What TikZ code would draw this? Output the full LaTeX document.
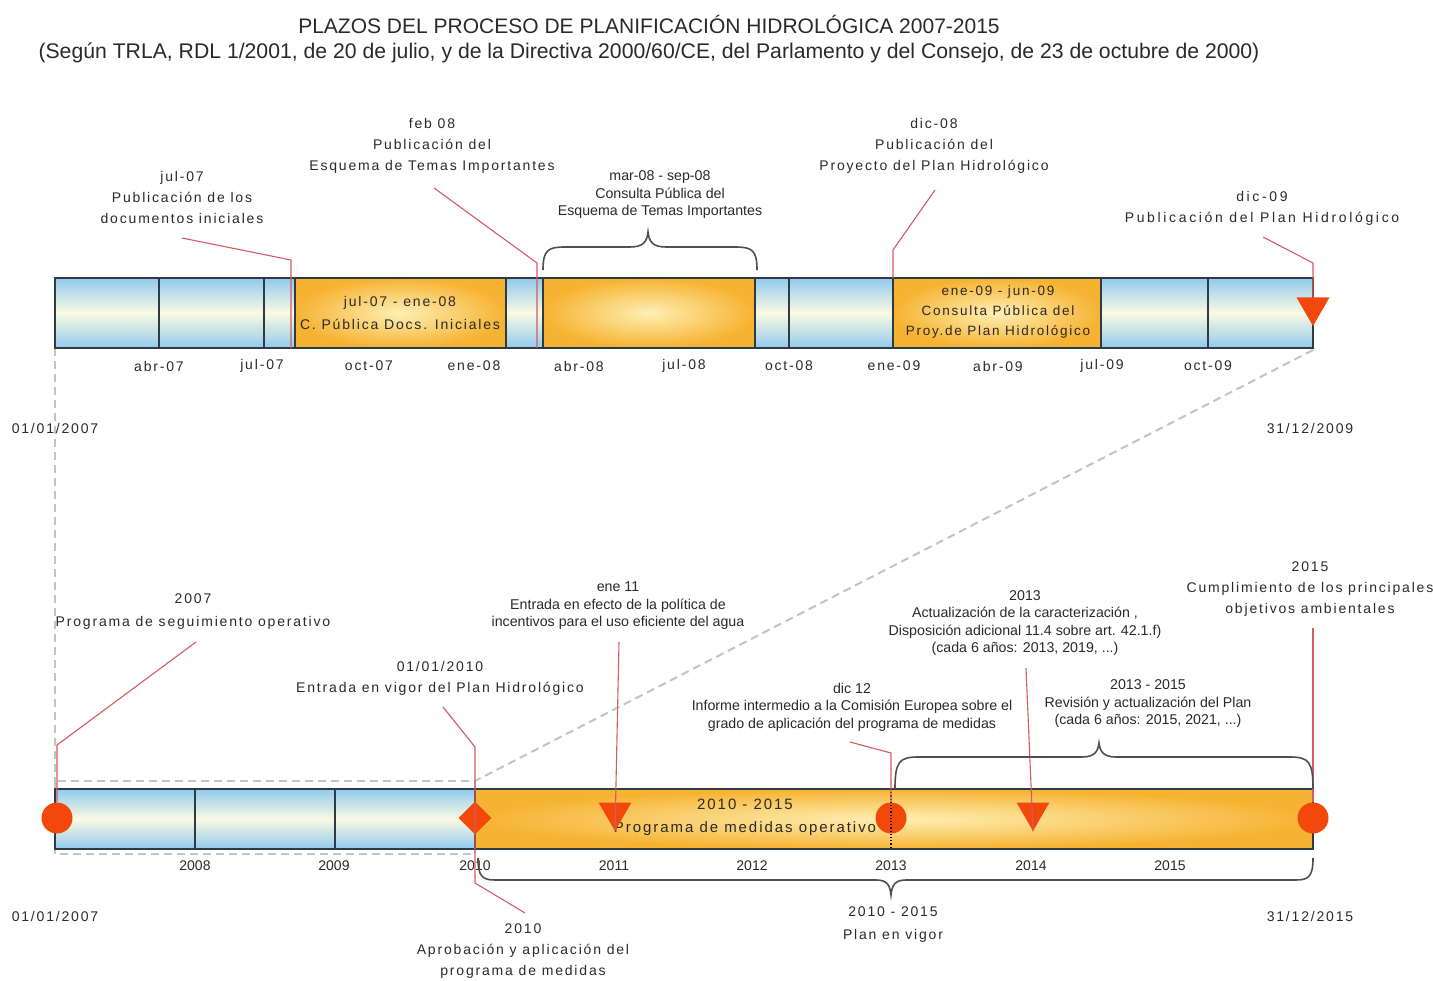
\documentclass[tikz,border=0pt]{standalone}
\usepackage{fontspec}
\setmainfont{Liberation Sans}
\newfontfamily\spacedfont[LetterSpace=13]{Liberation Sans}
\newfontfamily\widefont[LetterSpace=19]{Liberation Sans}
\usetikzlibrary{shapes.geometric}
\definecolor{barblue}{HTML}{92CAEE}
\definecolor{barpale}{HTML}{FAFAE2}
\definecolor{gold}{HTML}{F6B332}
\definecolor{goldlight}{HTML}{FEEFB4}
\definecolor{mk}{HTML}{F2480C}
\definecolor{callcol}{HTML}{D45A64}
\definecolor{barline}{HTML}{2E3A44}
\definecolor{dashgray}{HTML}{C4C4C4}
\definecolor{txt}{HTML}{2A2A2A}
\definecolor{bracecol}{HTML}{505050}
\begin{document}
\begin{tikzpicture}[x=1pt,y=-1pt,
  lbl/.style={font=\spacedfont\fontsize{14}{21}\selectfont, align=center, inner sep=0pt, text=txt},
  lblc/.style={font=\fontsize{14.2}{17.5}\selectfont, align=center, inner sep=0pt, text=txt},
  yr/.style={font=\fontsize{14}{17}\selectfont, inner sep=0pt, text=txt},
  bluecell/.style={top color=barblue, bottom color=barblue, middle color=barpale},
  goldcell/.style={inner color=goldlight, outer color=gold},
  barframe/.style={draw=barline, line width=1.3},
  divider/.style={draw=barline, line width=1.3},
  calln/.style={draw=callcol, line width=1.1},
  dashln/.style={draw=dashgray, line width=2, dash pattern=on 8pt off 5pt},
  bracestyle/.style={draw=bracecol, line width=1.6},
  mkcirc/.style={circle, fill=mk, minimum size=31pt, inner sep=0pt},
  mktri/.style={regular polygon, regular polygon sides=3, shape border rotate=180, fill=mk, minimum size=38pt, inner sep=0pt},
  mkdia/.style={diamond, fill=mk, minimum size=33pt, inner sep=0pt},
]
\useasboundingbox (0,0) rectangle (1433,981);
\fill[white] (0,0) rectangle (1433,981);

% ---------- titles
\node[font=\fontsize{21}{24}\selectfont, text=txt, inner sep=0pt] (title) at (649,25) {PLAZOS DEL PROCESO DE PLANIFICACIÓN HIDROLÓGICA 2007-2015};
\node[font=\fontsize{21.2}{24}\selectfont, text=txt, inner sep=0pt] (subtitle) at (649,53) {(Según TRLA, RDL 1/2001, de 20 de julio, y de la Directiva 2000/60/CE, del Parlamento y del Consejo, de 23 de octubre de 2000)};

% ---------- zoom indicator (dashed)
\coordinate (zTL) at (55,348);
\coordinate (zTR) at (1313,350);
\coordinate (zA) at (55,781);
\coordinate (zB) at (475,854);
\coordinate (zC) at (475,781);
\draw[dashln] (zTL) -- (zA);
\draw[dashln] (zA) rectangle (zB);
\draw[dashln] (zTR) -- (zC);

% ---------- top bar
\path[bluecell] (55,278) rectangle (1313,348);
\path[goldcell] (295,278) rectangle (506,348);
\path[goldcell] (543,278) rectangle (755,348);
\path[goldcell] (893,278) rectangle (1101,348);
\foreach \x in {159,264,295,506,543,755,789,893,1101,1208}
  \draw[divider] (\x,278) -- (\x,348);
\draw[barframe] (55,278) rectangle (1313,348);

\node[lbl, font=\spacedfont\fontsize{14}{23}\selectfont] (box1) at (400,313) {jul-07 - ene-08\\C. Pública Docs. Iniciales};
\node[lbl, font=\spacedfont\fontsize{13.5}{20}\selectfont] (box3) at (998,312) {ene-09 - jun-09\\Consulta Pública del\\Proy.de Plan Hidrológico};

\foreach \x/\t in {159/abr-07, 262/jul-07, 369/oct-07, 474/ene-08, 579/abr-08, 684/jul-08, 789/oct-08, 894/ene-09, 998/abr-09, 1102/jul-09, 1208/oct-09}
  \node[lbl, name=mon\x] at (\x,366) {\t};

\node[lbl] (d07a) at (55,428) {01/01/2007};
\node[lbl] (d09) at (1310,428) {31/12/2009};

% top marker
\node[mktri] (m09) at (1313,307) {};

% top labels
\node[lbl] (t1) at (182,197) {jul-07\\Publicación de los\\documentos iniciales};
\node[lbl] (t2) at (432,146) {feb 08\\Publicación del\\Esquema de Temas Importantes};
\node[lblc] (t3) at (660,195) {mar-08 - sep-08\\Consulta Pública del\\Esquema de Temas Importantes};
\node[lbl] (t4) at (934,146) {dic-08\\Publicación del\\Proyecto del Plan Hidrológico};
\node[lbl, font=\widefont\fontsize{14}{21}\selectfont] (t5) at (1262,208) {dic-09\\Publicación del Plan Hidrológico};

% top callouts
\coordinate (a1) at (182,238); \coordinate (a2) at (291,260); \coordinate (a3) at (291,348);
\draw[calln] (a1) -- (a2) -- (a3);
\coordinate (b1) at (434,188); \coordinate (b2) at (537,263); \coordinate (b3) at (537,348);
\draw[calln] (b1) -- (b2) -- (b3);
\coordinate (c1) at (935,190); \coordinate (c2) at (893,250); \coordinate (c3) at (893,278);
\draw[calln] (c1) -- (c2) -- (c3);
\coordinate (e1) at (1263,237); \coordinate (e2) at (1313,263);
\draw[calln] (e1) -- (e2) -- (m09.north);

% top brace
\draw[bracestyle] (543,270) .. controls (543,250) and (548,247) .. (565,247) -- (630,247)
  .. controls (643,247) and (647,242) .. (648,232) .. controls (649,242) and (653,247) .. (666,247)
  -- (735,247) .. controls (752,247) and (757,250) .. (757,270);

% ---------- bottom bar
\path[bluecell] (55,789) rectangle (475,849);
\path[goldcell] (475,789) rectangle (1313,849);
\foreach \x in {195,335,475}
  \draw[divider] (\x,789) -- (\x,849);
\draw[barframe] (55,789) rectangle (1313,849);

\node[lbl, font=\spacedfont\fontsize{15}{23}\selectfont] (prog) at (745,817) {2010 - 2015\\Programa de medidas operativo};

\foreach \x/\t in {195/2008, 334/2009, 475/2010, 614/2011, 752/2012, 891/2013, 1031/2014, 1170/2015}
  \node[yr, name=yr\t] at (\x,866) {\t};

\node[lbl] (d07b) at (55,916) {01/01/2007};
\node[lbl] (d15) at (1310,916) {31/12/2015};

% markers
\node[mkcirc] (m07) at (57,818) {};
\node[mkdia] (m10) at (475,818) {};
\node[mktri] (m11) at (615,812) {};
\node[mkcirc] (m12) at (891,818) {};
\node[mktri] (m13) at (1033,812) {};
\node[mkcirc] (m15) at (1313,818) {};
\draw[black, line width=1.2, dotted] (891,789) -- (891,849);

% bottom labels
\node[lbl, font=\spacedfont\fontsize{14}{23}\selectfont] (s1) at (193,612) {2007\\Programa de seguimiento operativo};
\node[lbl] (s2) at (440,678) {01/01/2010\\Entrada en vigor del Plan Hidrológico};
\node[lblc] (s3) at (618,606) {ene 11\\Entrada en efecto de la política de\\incentivos para el uso eficiente del agua};
\node[lblc] (s4) at (1025,623) {2013\\Actualización de la caracterización ,\\Disposición adicional 11.4 sobre art. 42.1.f)\\(cada 6 años: 2013, 2019, ...)};
\node[lbl] (s5) at (1310,589) {2015\\Cumplimiento de los principales\\objetivos ambientales};
\node[lblc] (s6) at (852,707) {dic 12\\Informe intermedio a la Comisión Europea sobre el\\grado de aplicación del programa de medidas};
\node[lblc] (s7) at (1148,704) {2013 - 2015\\Revisión y actualización del Plan\\(cada 6 años: 2015, 2021, ...)};
\node[lbl, font=\spacedfont\fontsize{14}{23}\selectfont] (s9) at (893,925) {2010 - 2015\\Plan en vigor};
\node[lbl] (s10) at (523,951) {2010\\Aprobación y aplicación del\\programa de medidas};

% bottom callouts
\coordinate (f1) at (196,642); \coordinate (f2) at (57,745);
\draw[calln] (f1) -- (f2) -- (m07.north);
\coordinate (g1) at (443,707); \coordinate (g2) at (475,747);
\draw[calln] (g1) -- (g2) -- (m10.center);
\coordinate (h1) at (525,913); \coordinate (h2) at (475,883);
\draw[calln] (h1) -- (h2) -- (m10.center);
\coordinate (i1) at (619,642);
\draw[calln] (i1) -- (m11.corner 1);
\coordinate (j1) at (850,742); \coordinate (j2) at (891,753);
\draw[calln] (j1) -- (j2) -- (m12.north);
\coordinate (k1) at (1026,668);
\draw[calln] (k1) -- (m13.corner 1);
\coordinate (l1) at (1313,628);
\draw[calln] (l1) -- (m15.north);

% bottom braces
\draw[bracestyle] (895,789) .. controls (895,762) and (899,757) .. (918,757) -- (1082,757)
  .. controls (1094,757) and (1098,752) .. (1099,743) .. controls (1100,752) and (1104,757) .. (1116,757)
  -- (1290,757) .. controls (1309,757) and (1313,762) .. (1313,789);
\draw[bracestyle] (478,858) .. controls (478,876) and (482,880) .. (495,880) -- (876,880)
  .. controls (887,880) and (890,885) .. (891,895) .. controls (892,885) and (895,880) .. (906,880)
  -- (1296,880) .. controls (1309,880) and (1313,876) .. (1313,858);
\end{tikzpicture}
\end{document}
